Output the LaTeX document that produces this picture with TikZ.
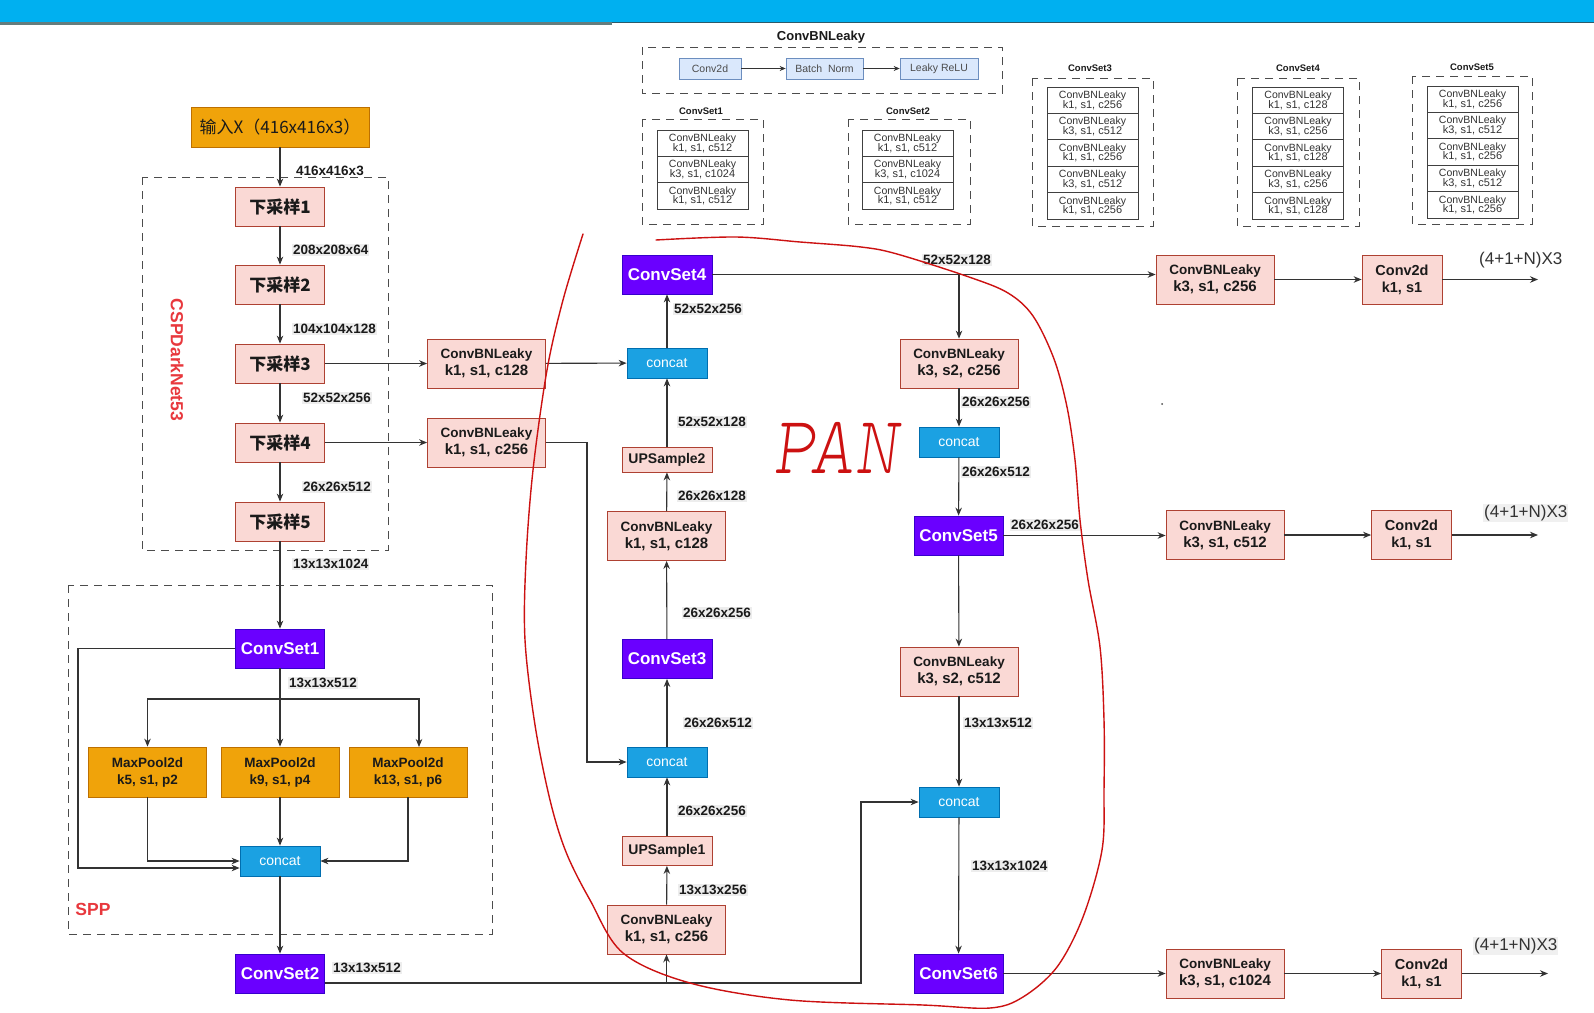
\documentclass[tikz,border=0pt]{standalone}
\usepackage{fontspec}
\setmainfont{Liberation Sans}
\newfontfamily\cjk{Noto Sans CJK SC}
\newfontfamily\handfont{lmmonoproplt10-oblique.otf}
\usetikzlibrary{arrows.meta,calc}
\definecolor{pinkF}{HTML}{FAD9D5}\definecolor{pinkD}{HTML}{AE4132}
\definecolor{purF}{HTML}{6A00FF}\definecolor{purD}{HTML}{3700CC}
\definecolor{bluF}{HTML}{1BA1E2}\definecolor{bluD}{HTML}{006EAF}
\definecolor{orgF}{HTML}{F0A30A}\definecolor{orgD}{HTML}{BD7000}
\definecolor{lbF}{HTML}{DAE8FC}\definecolor{lbD}{HTML}{6C8EBF}
\definecolor{redT}{HTML}{E8383D}
\definecolor{penred}{HTML}{CC1111}
\definecolor{barblue}{HTML}{00B0F0}
\definecolor{lineC}{HTML}{333333}
\definecolor{txtC}{HTML}{1A1A1A}
\newcommand{\twoline}[2]{{\fontsize{13.5}{16}\selectfont #1}\\#2}
\begin{document}
\begin{tikzpicture}[x=1pt,y=-1pt,
  box/.style={draw, line width=0.8pt, inner sep=0pt, align=center, text=txtC},
  cbl/.style={box, fill=pinkF, draw=pinkD, minimum width=118pt, minimum height=49pt, font=\bfseries\fontsize{15}{17}\selectfont},
  dsn/.style={box, fill=pinkF, draw=pinkD, minimum width=89pt, minimum height=39pt, font=\cjk\bfseries\fontsize{17}{20}\selectfont},
  cset/.style={box, fill=purF, draw=purD, text=white, minimum width=89pt, minimum height=39pt, font=\bfseries\fontsize{17}{20}\selectfont},
  cct/.style={box, fill=bluF, draw=bluD, text=white, minimum width=80pt, minimum height=30pt, font=\fontsize{14}{16}\selectfont},
  mpool/.style={box, fill=orgF, draw=orgD, minimum width=118pt, minimum height=50pt, font=\bfseries\fontsize{13.5}{17}\selectfont},
  ups/.style={box, fill=pinkF, draw=pinkD, minimum width=90pt, font=\bfseries\fontsize{14}{16}\selectfont},
  c2d/.style={box, fill=pinkF, draw=pinkD, minimum width=80pt, minimum height=49pt, font=\bfseries\fontsize{14.5}{17}\selectfont},
  dim/.style={fill=black!7, inner sep=1pt, anchor=west, text=txtC, font=\bfseries\fontsize{13.5}{15}\selectfont},
  outl/.style={inner sep=1pt, anchor=west, text=black!80, font=\fontsize{17}{19}\selectfont},
  conn/.style={draw=lineC, line width=1.1pt, -{Stealth[length=8pt,width=6.5pt]}},
  dbox/.style={draw=black!70, line width=1pt, dash pattern=on 8pt off 6pt},
  cell/.style={draw=black!75, line width=0.7pt, minimum width=91pt, minimum height=26.4pt, inner sep=0pt, align=center, text=black!80, font=\fontsize{10.5}{10.5}\selectfont},
  stitle/.style={text=txtC, font=\bfseries\fontsize{9.5}{11}\selectfont},
  lbx/.style={draw=lbD, fill=lbF, line width=0.7pt, minimum height=21pt, inner sep=0pt, text=black!70, font=\fontsize{10.5}{12}\selectfont},
  sconn/.style={draw=lineC, line width=0.7pt, -{Stealth[length=6pt,width=5pt]}}
]
\useasboundingbox (0,0) rectangle (1594,1012);
\fill[white] (0,0) rectangle (1594,1012);
% top bar
\fill[barblue] (0,0) rectangle (1594,22);
\draw[color={rgb,255:red,100;green,125;blue,125}, line width=2.6pt] (0,23.2) -- (612,23.2);
\draw[color={rgb,255:red,45;green,90;blue,105}, line width=1pt] (612,22.4) -- (1594,22.4);

% ===== top legend =====
\node[text=txtC, font=\bfseries\fontsize{13}{15}\selectfont] (tCBL) at (821,37) {ConvBNLeaky};
\draw[dbox] (642,47) rectangle (1002,93);
\node[lbx, minimum width=62pt] (lConv) at (710,68.5) {Conv2d};
\node[lbx, minimum width=77pt] (lBN) at (824.5,68.5) {Batch\ \ Norm};
\node[lbx, minimum width=78pt] (lLR) at (939,68.5) {Leaky ReLU};
\draw[sconn] (lConv) -- (lBN);
\draw[sconn] (lBN) -- (lLR);

\newcommand{\mktable}[4]{%
  \foreach \t [count=\i] in {#4} {
    \node[cell] (#1-\i) at (#2, {#3+26.4*(\i-0.5)}) {ConvBNLeaky\\[-1pt]{\fontsize{11}{11}\selectfont\t}};
  }}
% ConvSet1
\node[stitle] (tS1) at (701,111) {ConvSet1};
\draw[dbox] (642,119) rectangle (763,224);
\mktable{sa}{702.5}{130}{{k1, s1, c512},{k3, s1, c1024},{k1, s1, c512}}
% ConvSet2
\node[stitle] (tS2) at (908,111) {ConvSet2};
\draw[dbox] (848,119) rectangle (970,224);
\mktable{sb}{907.5}{130}{{k1, s1, c512},{k3, s1, c1024},{k1, s1, c512}}
% ConvSet3
\node[stitle] (tS3) at (1090,68) {ConvSet3};
\draw[dbox] (1032,78) rectangle (1153,226);
\mktable{sc}{1092.5}{87}{{k1, s1, c256},{k3, s1, c512},{k1, s1, c256},{k3, s1, c512},{k1, s1, c256}}
% ConvSet4
\node[stitle] (tS4) at (1298,68) {ConvSet4};
\draw[dbox] (1237,78) rectangle (1359,226);
\mktable{sd}{1298}{87}{{k1, s1, c128},{k3, s1, c256},{k1, s1, c128},{k3, s1, c256},{k1, s1, c128}}
% ConvSet5
\node[stitle] (tS5) at (1472,67) {ConvSet5};
\draw[dbox] (1412,76) rectangle (1532,224);
\mktable{se}{1472.5}{86}{{k1, s1, c256},{k3, s1, c512},{k1, s1, c256},{k3, s1, c512},{k1, s1, c256}}

% ===== backbone =====
\node[dim, fill=none] (l0) at (295,171) {416x416x3};
\draw[dbox] (142,177) rectangle (388,550);
\node[text=redT, rotate=-90, font=\bfseries\fontsize{17.5}{20}\selectfont] (tCSP) at (177,360) {CSPDarkNet53};
\node[box, fill=orgF, draw=orgD, minimum width=178pt, minimum height=40pt, font=\cjk\fontsize{17}{19}\selectfont] (inp) at (280,127) {输入X（416x416x3）};
\node[dsn] (d1) at (280,206.5) {下采样1};
\node[dsn] (d2) at (280,284.5) {下采样2};
\node[dsn] (d3) at (280,363.5) {下采样3};
\node[dsn] (d4) at (280,442.5) {下采样4};
\node[dsn] (d5) at (280,521.5) {下采样5};
\node[cbl] (cblA) at (486.5,363.5) {\twoline{ConvBNLeaky}{k1, s1, c128}};
\node[cbl] (cblB) at (486.5,442.5) {\twoline{ConvBNLeaky}{k1, s1, c256}};
\draw[conn] (inp) -- (d1);
\draw[conn] (d1) -- (d2);
\draw[conn] (d2) -- (d3);
\draw[conn] (d3) -- (d4);
\draw[conn] (d4) -- (d5);
\draw[conn] (d3) -- (cblA);
\draw[conn] (d4) -- (cblB);
\node[dim] (l1) at (292,250) {208x208x64};
\node[dim] (l2) at (292,329) {104x104x128};
\node[dim] (l3) at (302,398) {52x52x256};
\node[dim] (l4) at (302,487) {26x26x512};
\node[dim] (l5) at (292,564) {13x13x1024};

% ===== SPP =====
\draw[dbox] (68,585) rectangle (492,934);
\node[text=redT, font=\bfseries\fontsize{17.5}{20}\selectfont] (tSPP) at (93,909) {SPP};
\node[cset] (cs1) at (280,648.5) {ConvSet1};
\node[mpool] (mp1) at (147.5,772) {MaxPool2d\\k5, s1, p2};
\node[mpool] (mp2) at (280,772) {MaxPool2d\\k9, s1, p4};
\node[mpool] (mp3) at (408,772) {MaxPool2d\\k13, s1, p6};
\node[cct] (ccS) at (280,861) {concat};
\node[cset] (cs2) at (280,973.5) {ConvSet2};
\draw[conn] (d5) -- (cs1);
\coordinate (sp) at (280,699);
\coordinate (m3in) at (419,747);
\coordinate (b3) at (78,868);
\draw[conn] (cs1.south) -- (sp) -- (mp2.north);
\draw[conn] (sp) -| (mp1.north);
\draw[conn] (sp) -| (m3in);
\draw[conn] (mp1.south) |- (ccS.west);
\draw[conn] (mp2.south) -- (ccS.north);
\draw[conn] (mp3.south) |- (ccS.east);
\draw[conn] (cs1.west) -| (b3) -- (ccS.west |- b3);
\draw[conn] (ccS) -- (cs2);
\node[dim] (l6) at (288,683) {13x13x512};
\node[dim] (l7) at (332,968) {13x13x512};

% ===== PAN left column =====
\node[cset, minimum width=90pt] (cs4) at (667,274.5) {ConvSet4};
\node[cct] (cc1) at (667,363) {concat};
\node[ups, minimum height=25pt] (up2) at (667,459.5) {UPSample2};
\node[cbl] (cblC) at (666.5,536) {\twoline{ConvBNLeaky}{k1, s1, c128}};
\node[cset, minimum width=90pt] (cs3) at (667,659) {ConvSet3};
\node[cct] (cc3) at (667,762) {concat};
\node[ups, minimum height=29pt] (up1) at (667,851) {UPSample1};
\node[cbl] (cblD) at (666.5,929.5) {\twoline{ConvBNLeaky}{k1, s1, c256}};

% ===== PAN right column =====
\node[cbl] (cblE) at (959,363.5) {\twoline{ConvBNLeaky}{k3, s2, c256}};
\node[cct] (cc2) at (959,442) {concat};
\node[cset] (cs5) at (958.5,535.5) {ConvSet5};
\node[cbl] (cblF) at (959,671.5) {\twoline{ConvBNLeaky}{k3, s2, c512}};
\node[cct] (cc4) at (959,802) {concat};
\node[cset] (cs6) at (958.5,973.5) {ConvSet6};

\coordinate (b1) at (861,983);
\coordinate (b2) at (587,0);
\draw[conn] (cs2.east |- b1) -- (b1) |- (cc4.west);
\draw[conn] (cblD.south |- b1) -- (cblD.south);
\draw[conn] (cblD) -- (up1);
\draw[conn] (up1) -- (cc3);
\draw[conn] (cblB.east) -- (cblB.east -| b2) |- (cc3.west);
\draw[conn] (cc3) -- (cs3);
\draw[conn] (cs3) -- (cblC);
\draw[conn] (cblC) -- (up2);
\draw[conn] (up2) -- (cc1);
\draw[conn] (cblA) -- (cc1);
\draw[conn] (cc1) -- (cs4);
\node[dim] (l8) at (673,309) {52x52x256};
\node[dim] (l9) at (677,422) {52x52x128};
\node[dim] (l10) at (677,496) {26x26x128};
\node[dim] (l11) at (682,613) {26x26x256};
\node[dim] (l12) at (683,723) {26x26x512};
\node[dim] (l13) at (677,811) {26x26x256};
\node[dim] (l14) at (678,890) {13x13x256};

\draw[conn] (cs4.east -| cblE.north) -- (cblE.north);
\draw[conn] (cblE) -- (cc2);
\draw[conn] (cc2) -- (cs5);
\draw[conn] (cs5) -- (cblF);
\draw[conn] (cblF) -- (cc4);
\draw[conn] (cc4) -- (cs6);
\node[dim] (l15) at (922,260) {52x52x128};
\node[dim] (l16) at (961,402) {26x26x256};
\node[dim] (l17) at (961,472) {26x26x512};
\node[dim] (l18) at (1010,525) {26x26x256};
\node[dim] (l19) at (963,723) {13x13x512};
\node[dim] (l20) at (971,866) {13x13x1024};

% ===== heads =====
\node[cbl] (cblG) at (1215,279.5) {\twoline{ConvBNLeaky}{k3, s1, c256}};
\node[c2d] (cvA) at (1402,279.5) {Conv2d\\k1, s1};
\coordinate (outA) at (1538,279.5);
\node[cbl] (cblH) at (1225,535) {\twoline{ConvBNLeaky}{k3, s1, c512}};
\node[c2d] (cvB) at (1411.5,535) {Conv2d\\k1, s1};
\coordinate (outB) at (1538,535);
\node[cbl] (cblI) at (1225,973.5) {\twoline{ConvBNLeaky}{k3, s1, c1024}};
\node[c2d] (cvC) at (1421.5,973.5) {Conv2d\\k1, s1};
\coordinate (outC) at (1548,973.5);
\draw[conn] (cs4.east) -- (cs4.east -| cblG.west);
\draw[conn] (cblG) -- (cvA);
\draw[conn] (cvA) -- (outA);
\draw[conn] (cs5.east) -- (cs5.east -| cblH.west);
\draw[conn] (cblH) -- (cvB);
\draw[conn] (cvB) -- (outB);
\draw[conn] (cs6) -- (cblI);
\draw[conn] (cblI) -- (cvC);
\draw[conn] (cvC) -- (outC);
\node[outl] (o1) at (1478,260) {(4+1+N)X3};
\node[outl, fill=black!6] (o2) at (1483,513) {(4+1+N)X3};
\node[outl, fill=black!6] (o3) at (1473,946) {(4+1+N)X3};
\fill[black!70] (1162,404) circle (1pt);

% ===== hand annotation =====
\draw[penred, line width=1.4pt, line cap=round] plot[smooth, tension=0.55] coordinates {
 (656,240) (736,237) (800,242) (861,247) (897,254) (969,277) (1008,293) (1033,316) (1054,359)
 (1067,407) (1075,460) (1080,520) (1088,580) (1100,647) (1104,720) (1104,790) (1102,850)
 (1083,917) (1057,967) (1023,997) (990,1008) (923,1005) (790,1000) (690,983) (623,953)
 (590,900) (566,852) (550,800) (535,725) (525,640) (526,560) (533,470) (547,370) (563,300) (583,234)};
\node[text=penred, font=\handfont\fontsize{82}{82}\selectfont, xscale=0.72, transform shape] (pan) at (836,448) {PAN};
\end{tikzpicture}
\end{document}
